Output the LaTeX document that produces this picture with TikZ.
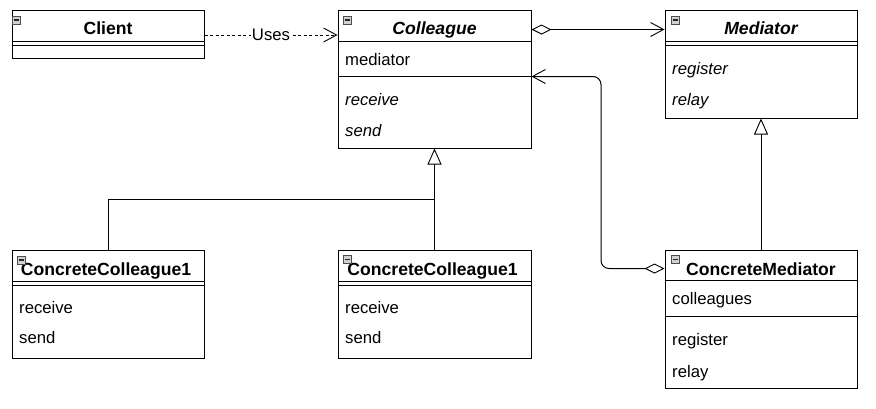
\documentclass[tikz,border=0pt]{standalone}
\usepackage{fontspec}
\setmainfont{Liberation Sans}
\usetikzlibrary{arrows.meta,calc}
\begin{document}
\begin{tikzpicture}[x=1pt,y=-1pt,
  umlbox/.style={draw=black, line width=1pt, inner sep=0pt, fill=white},
  umlline/.style={draw=black, line width=1pt},
  hdr/.style={inner sep=0pt, font=\fontsize{17.6}{20}\selectfont\bfseries},
  hdri/.style={inner sep=0pt, font=\fontsize{17.6}{20}\selectfont\bfseries\itshape},
  attr/.style={inner sep=0pt, font=\fontsize{16.7}{19}\selectfont},
  attri/.style={inner sep=0pt, font=\fontsize{16.7}{19}\selectfont\itshape},
  ico/.style={draw=black!70, line width=0.6pt, fill=black!18, minimum size=8pt, inner sep=0pt,
    path picture={\draw[line width=1.1pt, black!85] ($(path picture bounding box.west)+(1.5,0)$) -- ($(path picture bounding box.east)+(-1.5,0)$);}},
  lbl/.style={inner sep=1pt, fill=white, font=\fontsize{16.7}{19}\selectfont},
  dep/.style={line width=0.8pt, dash pattern=on 3pt off 2.5pt, -{Straight Barb[length=13pt,width=14pt,line width=0.9pt]}},
  agg/.style={line width=1pt, {Diamond[length=20pt,width=10pt,fill=white,line width=0.9pt]}-{Straight Barb[length=13pt,width=14pt,line width=0.9pt]}},
  inh/.style={line width=1pt, -{Triangle[length=16pt,width=14pt,fill=white,line width=0.9pt]}},
  plain/.style={line width=1pt}
]
\useasboundingbox (0,0) rectangle (876,408);

% Client
\node[umlbox, minimum width=192pt, minimum height=48pt] (client) at (108,34) {};
\draw[umlline] ($(client.north west)+(0,32)$) -- ($(client.north east)+(0,32)$);
\draw[umlline] ($(client.north west)+(0,35.5)$) -- ($(client.north east)+(0,35.5)$);
\node[hdr, anchor=base] (clientname) at (108,34) {Client};
\node[ico] (clientico) at (16,20) {};

% Colleague
\node[umlbox, minimum width=193pt, minimum height=138pt] (colleague) at (434.5,79) {};
\draw[umlline] ($(colleague.north west)+(0,32)$) -- ($(colleague.north east)+(0,32)$);
\draw[umlline] ($(colleague.north west)+(0,67)$) -- ($(colleague.north east)+(0,67)$);
\node[hdri, anchor=base] (colleaguename) at (434.5,34) {Colleague};
\node[ico] (colleagueico) at (347.5,20) {};
\node[attr, anchor=base west] (colmed) at (345,65) {mediator};
\node[attri, anchor=base west] (colrec) at (345,105) {receive};
\node[attri, anchor=base west] (colsend) at (345,136) {send};

% Mediator
\node[umlbox, minimum width=192pt, minimum height=108pt] (mediator) at (761,64) {};
\draw[umlline] ($(mediator.north west)+(0,32)$) -- ($(mediator.north east)+(0,32)$);
\draw[umlline] ($(mediator.north west)+(0,35.5)$) -- ($(mediator.north east)+(0,35.5)$);
\node[hdri, anchor=base] (mediatorname) at (761,34) {Mediator};
\node[ico] (mediatorico) at (675,20) {};
\node[attri, anchor=base west] (medreg) at (672,74) {register};
\node[attri, anchor=base west] (medrel) at (672,105) {relay};

% ConcreteColleague1 (left)
\node[umlbox, minimum width=192pt, minimum height=108pt] (cca) at (108,304) {};
\draw[umlline] ($(cca.north west)+(0,32)$) -- ($(cca.north east)+(0,32)$);
\draw[umlline] ($(cca.north west)+(0,35.5)$) -- ($(cca.north east)+(0,35.5)$);
\node[hdr, anchor=base] (ccaname) at (106,275) {ConcreteColleague1};
\node[ico] (ccaico) at (21,260) {};
\node[attr, anchor=base west] (ccarec) at (19,313) {receive};
\node[attr, anchor=base west] (ccasend) at (19,343) {send};

% ConcreteColleague1 (middle)
\node[umlbox, minimum width=193pt, minimum height=108pt] (ccb) at (434.5,304) {};
\draw[umlline] ($(ccb.north west)+(0,32)$) -- ($(ccb.north east)+(0,32)$);
\draw[umlline] ($(ccb.north west)+(0,35.5)$) -- ($(ccb.north east)+(0,35.5)$);
\node[hdr, anchor=base] (ccbname) at (432.5,275) {ConcreteColleague1};
\node[ico] (ccbico) at (347.5,259.5) {};
\node[attr, anchor=base west] (ccbrec) at (345,313) {receive};
\node[attr, anchor=base west] (ccbsend) at (345,343) {send};

% ConcreteMediator
\node[umlbox, minimum width=192pt, minimum height=138pt] (cmed) at (761,319) {};
\draw[umlline] ($(cmed.north west)+(0,31)$) -- ($(cmed.north east)+(0,31)$);
\draw[umlline] ($(cmed.north west)+(0,67)$) -- ($(cmed.north east)+(0,67)$);
\node[hdr, anchor=base] (cmedname) at (761,275) {ConcreteMediator};
\node[ico] (cmedico) at (675.5,259.5) {};
\node[attr, anchor=base west] (cmedcol) at (672,304) {colleagues};
\node[attr, anchor=base west] (cmedreg) at (672,345) {register};
\node[attr, anchor=base west] (cmedrel) at (672,377) {relay};

% Connectors
\coordinate (depstart) at ($(client.east)+(0,1)$);
\draw[dep] (depstart) -- node[lbl] (uses) {Uses} (depstart -| colleague.west);
\draw[agg] ($(colleague.north east)+(0,20)$) -- ($(mediator.north west)+(0,20)$);
\coordinate (fbstart) at ($(cmed.north west)+(0,19)$);
\coordinate (fbend) at ($(colleague.north east)+(0,67)$);
\coordinate (bend) at (601,0);
\draw[agg, rounded corners=8pt] (fbstart) -- (fbstart -| bend) |- (fbend);
\draw[inh] (ccb.north) -- (colleague.south);
\draw[plain] (cca.north) |- ($(ccb.north)+(0,-50)$);
\draw[inh] (cmed.north) -- (mediator.south);
\end{tikzpicture}
\end{document}
